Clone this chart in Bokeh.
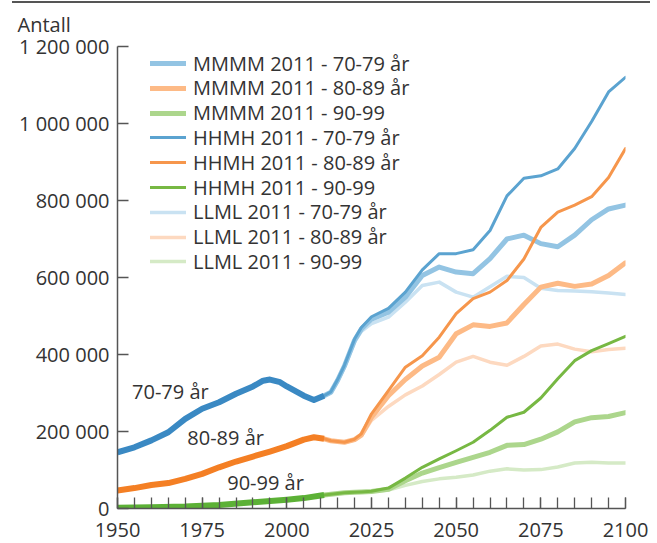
from bokeh.plotting import figure
from bokeh.layouts import column
from bokeh.models import (Legend, LegendItem, FixedTicker, SingleIntervalTicker,
                          ColumnDataSource, Div, Title)
from bokeh.core.properties import value
from bokeh.embed import file_html
from bokeh.resources import INLINE

# ---------------- data (persons) ----------------
hist_years_70 = [1950, 1955, 1960, 1965, 1970, 1975, 1980, 1985, 1990, 1993, 1995, 1998, 2000, 2005, 2008, 2011]
hist_70 = [146000, 159000, 177000, 198000, 233000, 259000, 276000, 298000, 317000, 332000, 335000, 328000, 317000, 293000, 282000, 293000]

hist_years_80 = [1950, 1955, 1960, 1965, 1970, 1975, 1980, 1985, 1990, 1995, 2000, 2005, 2008, 2011]
hist_80 = [47000, 53000, 61000, 66000, 77000, 90000, 107000, 122000, 135000, 148000, 162000, 179000, 185000, 181000]

hist_years_90 = [1950, 1960, 1970, 1980, 1990, 2000, 2005, 2011]
hist_90 = [2000, 3000, 5000, 9000, 16000, 23000, 27000, 35000]

proj_years = [2011, 2013, 2015, 2017, 2020, 2022, 2025, 2030, 2035, 2040, 2045, 2050,
              2055, 2060, 2065, 2070, 2075, 2080, 2085, 2090, 2095, 2100]

hhmh_70 = [293000, 303000, 335000, 372000, 440000, 470000, 498000, 520000, 562000, 620000, 662000, 662000,
           672000, 722000, 812000, 858000, 864000, 882000, 935000, 1005000, 1082000, 1120000]
mmmm_70 = [293000, 302000, 333000, 370000, 437000, 466000, 492000, 510000, 549000, 605000, 627000, 614000,
           610000, 649000, 700000, 710000, 688000, 680000, 710000, 750000, 778000, 788000]
llml_70 = [293000, 301000, 330000, 366000, 432000, 460000, 480000, 497000, 536000, 579000, 588000, 562000,
           549000, 576000, 603000, 600000, 572000, 566000, 565000, 563000, 560000, 556000]

hhmh_80 = [181000, 176000, 174000, 172000, 180000, 194000, 246000, 306000, 367000, 397000, 445000, 506000,
           545000, 562000, 592000, 648000, 730000, 770000, 788000, 810000, 860000, 935000]
mmmm_80 = [181000, 176000, 174000, 172000, 179000, 191000, 237000, 293000, 335000, 370000, 393000, 454000,
           477000, 473000, 482000, 530000, 575000, 585000, 577000, 583000, 605000, 638000]
llml_80 = [181000, 176000, 174000, 172000, 178000, 188000, 229000, 265000, 295000, 318000, 348000, 380000,
           395000, 380000, 372000, 395000, 422000, 427000, 414000, 407000, 413000, 416000]

hhmh_90 = [35000, 37000, 39000, 41000, 42000, 43000, 45000, 53000, 79000, 107000, 129000, 150000,
           172000, 203000, 237000, 250000, 287000, 337000, 384000, 410000, 428000, 447000]
mmmm_90 = [35000, 37000, 39000, 41000, 42000, 43000, 44000, 50000, 72000, 92000, 106000, 120000,
           133000, 146000, 164000, 166000, 180000, 199000, 225000, 236000, 239000, 249000]
llml_90 = [35000, 37000, 39000, 41000, 42000, 43000, 44000, 48000, 60000, 70000, 77000, 81000,
           87000, 97000, 103000, 100000, 101000, 108000, 118000, 120000, 118000, 118000]

legend_labels = ["MMMM 2011 - 70-79 år", "MMMM 2011 - 80-89 år", "MMMM 2011 - 90-99",
                 "HHMH 2011 - 70-79 år", "HHMH 2011 - 80-89 år", "HHMH 2011 - 90-99",
                 "LLML 2011 - 70-79 år", "LLML 2011 - 80-89 år", "LLML 2011 - 90-99"]

y_ticks = [0, 200000, 400000, 600000, 800000, 1000000, 1200000]
y_tick_labels = ["0", "200 000", "400 000", "600 000", "800 000", "1 000 000", "1 200 000"]

age_labels = ["70-79 år", "80-89 år", "90-99 år"]
age_label_x = [1954.3, 1970.6, 1982.4]
age_label_y = [304000, 184000, 67000]

unit_label = "Antall"

# ---------------- styling ----------------
FONT = "Open Sans"
TXT = "#333333"
AX = "#555555"

hist_colors = ["#3a89c3", "#f47f24", "#5cb136"]
h_colors = ["#5ba3d0", "#f6964c", "#77b843"]
m_colors = ["#93c4e3", "#fdba86", "#acd68c"]
l_colors = ["#c9e2f2", "#fdd9c0", "#d5eac6"]

p = figure(width=657, height=540, x_range=(1950, 2100), y_range=(0, 1200000),
           output_backend="svg", toolbar_location=None,
           min_border_left=117, min_border_right=32, min_border_top=43, min_border_bottom=35)
p.grid.visible = False
p.outline_line_color = None

# unit label as left-aligned title
p.title = Title(text=unit_label, align="left", vertical_align="top", offset=-100, standoff=14,
                text_font=FONT, text_font_size="20px", text_font_style="normal", text_color=TXT)

# axes
p.xaxis.ticker = SingleIntervalTicker(interval=25, num_minor_ticks=5)
p.yaxis.ticker = FixedTicker(ticks=y_ticks)
p.yaxis.major_label_overrides = {t: l for t, l in zip(y_ticks, y_tick_labels)}
for ax in (p.xaxis[0], p.yaxis[0]):
    ax.axis_line_color = AX
    ax.axis_line_width = 1.5
    ax.major_tick_line_color = AX
    ax.major_tick_line_width = 1.3
    ax.minor_tick_line_color = AX
    ax.minor_tick_line_width = 1.3
    ax.major_tick_in = 11
    ax.major_tick_out = 0
    ax.minor_tick_in = 11
    ax.minor_tick_out = 0
    ax.major_label_text_font = FONT
    ax.major_label_text_font_size = "20px"
    ax.major_label_text_color = TXT
p.xaxis.major_label_standoff = 14
p.yaxis.major_label_standoff = 8

# projections
series = [(mmmm_70, m_colors[0], 5), (mmmm_80, m_colors[1], 5), (mmmm_90, m_colors[2], 5),
          (hhmh_70, h_colors[0], 3), (hhmh_80, h_colors[1], 3), (hhmh_90, h_colors[2], 3),
          (llml_70, l_colors[0], 3.5), (llml_80, l_colors[1], 3.5), (llml_90, l_colors[2], 3.5)]
draw_order = [6, 7, 8, 0, 1, 2, 3, 4, 5]
renderers = [None] * 9
for i in draw_order:
    vals, col, w = series[i]
    renderers[i] = p.line(proj_years, vals, line_color=col, line_width=w, line_join="round", line_cap="round")

# history
p.line(hist_years_70, hist_70, line_color=hist_colors[0], line_width=6, line_join="round")
p.line(hist_years_80, hist_80, line_color=hist_colors[1], line_width=6, line_join="round")
p.line(hist_years_90, hist_90, line_color=hist_colors[2], line_width=6, line_join="round")

# age labels
src = ColumnDataSource(dict(x=age_label_x, y=age_label_y, t=age_labels))
p.text(x="x", y="y", text="t", source=src, text_font=value(FONT), text_font_size="20px",
       text_color=TXT, text_baseline="middle", text_align="left")

# legend: one single-row legend per entry so the row pitch can match the original
ROW_TOP = 49.5      # screen px of first row top (page coords)
ROW_PITCH = 24.8
ROW_H = 27
FRAME_BOTTOM = 508
for k, (lab, r) in enumerate(zip(legend_labels, renderers)):
    bottom = ROW_TOP + k * ROW_PITCH + ROW_H
    lg = Legend(items=[LegendItem(label=lab, renderers=[r])],
                location=(33, FRAME_BOTTOM - bottom), border_line_color=None,
                background_fill_alpha=0, padding=0, margin=0, spacing=0,
                glyph_width=36, glyph_height=22, label_height=22, label_standoff=7,
                label_text_font=FONT, label_text_font_size="20px", label_text_color=TXT)
    p.add_layout(lg)

# top rule
rule = Div(text="", width=638, height=2, margin=(1, 7, 0, 12),
           styles={"background-color": "#555555"},
           stylesheets=[":host { background-color: #555555 !important; display: block; }"])

layout = column(rule, p, spacing=0)
open("out.html", "w").write(file_html(layout, INLINE))
